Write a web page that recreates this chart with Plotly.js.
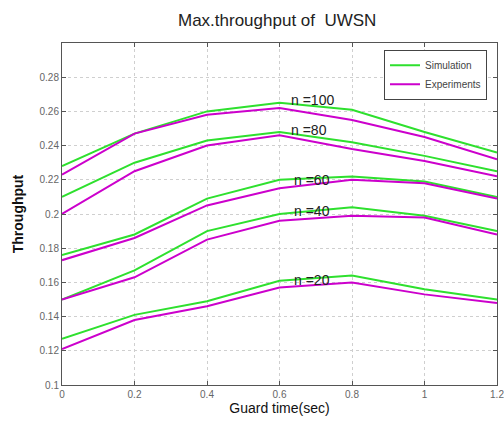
<!DOCTYPE html>
<html>
<head>
<meta charset="utf-8">
<script src="https://cdn.plot.ly/plotly-3.0.1.min.js"></script>
<style>html,body{margin:0;padding:0;background:#fff;}#chart{width:504px;height:426px;}</style>
</head>
<body>
<div id="chart"></div>
<script>
const guardTime = [0, 0.2, 0.4, 0.6, 0.8, 1.0, 1.2];
const nLabels = ['n =100', 'n =80', 'n =60', 'n =40', 'n =20'];
const sim100 = [0.228, 0.247, 0.260, 0.265, 0.261, 0.248, 0.236];
const exp100 = [0.223, 0.247, 0.258, 0.262, 0.255, 0.245, 0.232];
const sim80  = [0.210, 0.230, 0.243, 0.248, 0.242, 0.234, 0.225];
const exp80  = [0.200, 0.225, 0.240, 0.246, 0.238, 0.231, 0.222];
const sim60  = [0.176, 0.188, 0.209, 0.220, 0.222, 0.219, 0.210];
const exp60  = [0.173, 0.186, 0.205, 0.215, 0.220, 0.218, 0.209];
const sim40  = [0.150, 0.167, 0.190, 0.200, 0.204, 0.199, 0.190];
const exp40  = [0.150, 0.163, 0.185, 0.196, 0.199, 0.198, 0.188];
const sim20  = [0.127, 0.141, 0.149, 0.161, 0.164, 0.156, 0.150];
const exp20  = [0.121, 0.138, 0.146, 0.157, 0.160, 0.153, 0.148];
const labelX = [0.69, 0.68, 0.69, 0.69, 0.69];
const labelY = [0.2667, 0.2492, 0.2201, 0.2017, 0.1614];
const xTicks = [0, 0.2, 0.4, 0.6, 0.8, 1, 1.2];
const xTickText = ['0', '0.2', '0.4', '0.6', '0.8', '1', '1.2'];
const yTicks = [0.1, 0.12, 0.14, 0.16, 0.18, 0.2, 0.22, 0.24, 0.26, 0.28];
const yTickText = ['0.1', '0.12', '0.14', '0.16', '0.18', '0.2', '0.22', '0.24', '0.26', '0.28'];

const simSeries = [sim100, sim80, sim60, sim40, sim20];
const expSeries = [exp100, exp80, exp60, exp40, exp20];
const green = '#2ee02e';
const magenta = '#cc00cc';
const traces = [];
simSeries.forEach((s, i) => {
  traces.push({x: guardTime, y: s, mode: 'lines', name: 'Simulation', legendgroup: 'sim',
    showlegend: i === 0, line: {color: green, width: 2}});
});
expSeries.forEach((s, i) => {
  traces.push({x: guardTime, y: s, mode: 'lines', name: 'Experiments', legendgroup: 'exp',
    showlegend: i === 0, line: {color: magenta, width: 2}});
});

const annotations = nLabels.map((t, i) => ({
  x: labelX[i], y: labelY[i], xref: 'x', yref: 'y', text: t, showarrow: false,
  font: {family: 'Liberation Sans, Arial, sans-serif', size: 14, color: '#222'}
}));

const axisCommon = {
  showline: true, linecolor: '#555', linewidth: 1, mirror: 'allticks',
  ticks: 'inside', ticklen: 4, tickcolor: '#555',
  showgrid: true, gridcolor: '#cfcfcf', griddash: 'dot', gridwidth: 1,
  zeroline: false, ticklabeloverflow: 'allow',
  tickfont: {family: 'Liberation Sans, Arial, sans-serif', size: 10, color: '#666'}
};

const layout = {
  width: 504, height: 426,
  margin: {l: 62, r: 7, t: 43, b: 41},
  paper_bgcolor: '#fff', plot_bgcolor: '#fff',
  title: {text: 'Max.throughput of  UWSN', x: 0.55, xanchor: 'center', y: 0.952, yanchor: 'middle',
    font: {family: 'Liberation Sans, Arial, sans-serif', size: 17, color: '#222'}},
  xaxis: Object.assign({}, axisCommon, {
    range: [0, 1.2], tickvals: xTicks, ticktext: xTickText,
    title: {text: 'Guard time(sec)', standoff: 4,
      font: {family: 'Liberation Sans, Arial, sans-serif', size: 14, color: '#111'}}
  }),
  yaxis: Object.assign({}, axisCommon, {
    range: [0.1, 0.3], tickvals: yTicks, ticktext: yTickText,
    title: {text: '<b>Throughput</b>', standoff: 12,
      font: {family: 'Liberation Sans, Arial, sans-serif', size: 14, color: '#111'}}
  }),
  legend: {x: 0.977, y: 0.98, xanchor: 'right', yanchor: 'top',
    bgcolor: '#fff', bordercolor: '#444', borderwidth: 1,
    font: {family: 'Liberation Sans, Arial, sans-serif', size: 10, color: '#444'},
    tracegroupgap: 0, itemwidth: 30},
  annotations: annotations,
  showlegend: true
};

Plotly.newPlot('chart', traces, layout, {displayModeBar: false, staticPlot: true});
</script>
</body>
</html>
